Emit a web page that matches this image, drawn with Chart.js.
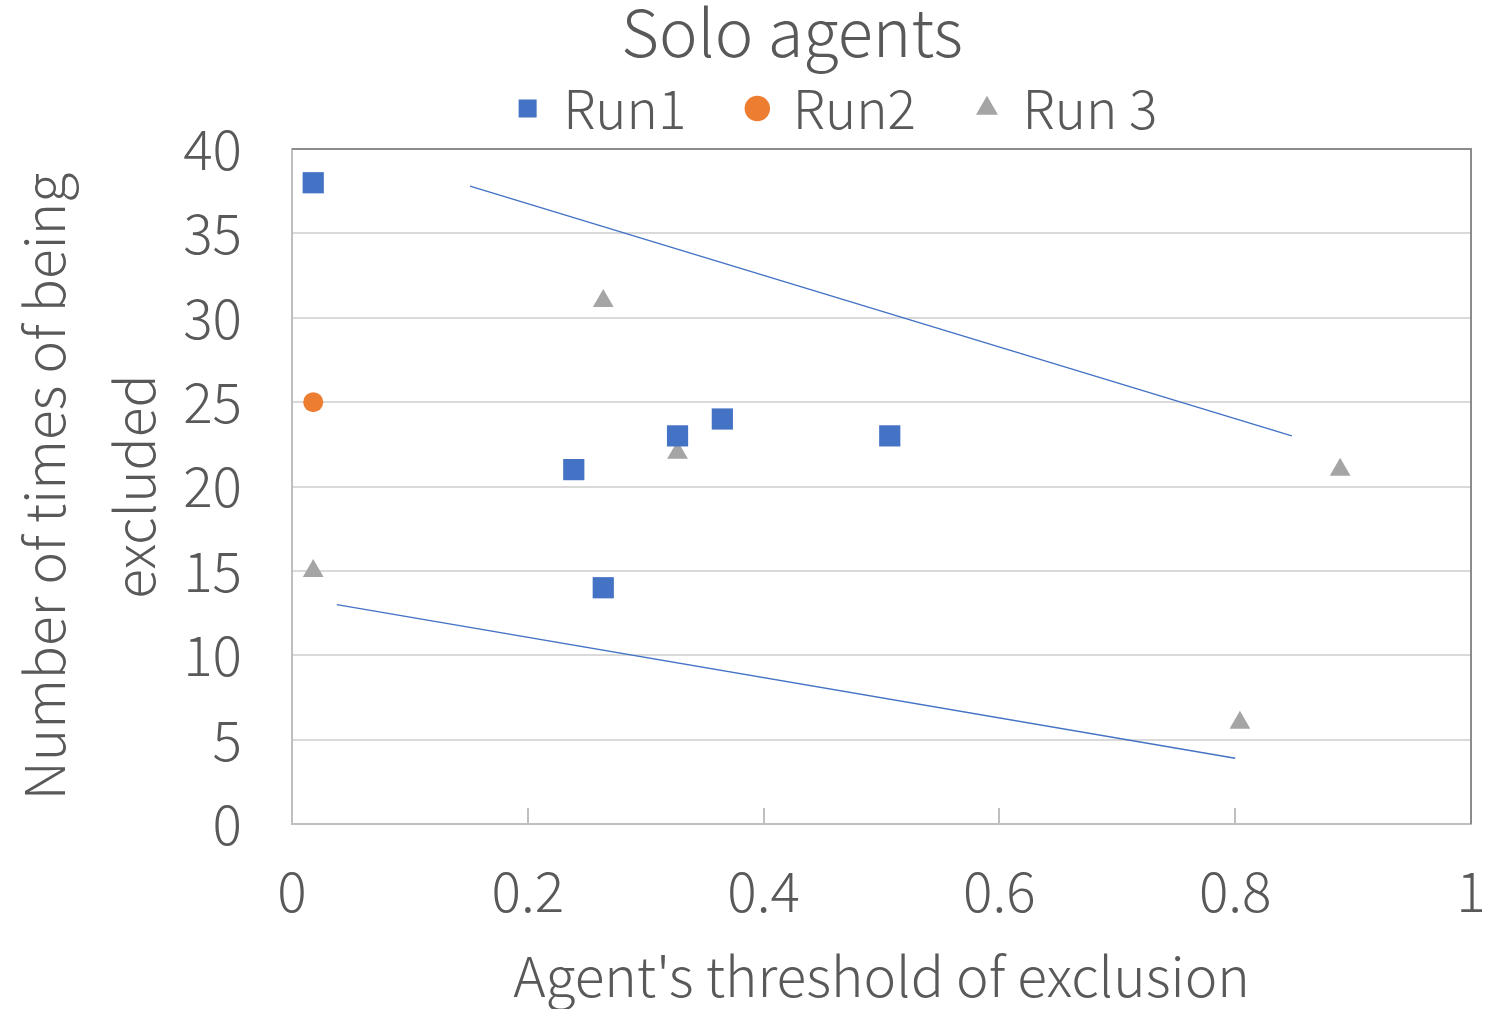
<!DOCTYPE html>
<html>
<head>
<meta charset="utf-8">
<script src="https://cdn.jsdelivr.net/npm/chart.js@4"></script>
<style>
  html, body { margin: 0; padding: 0; background: #ffffff; overflow: hidden; width: 1486px; height: 1009px; }
  #wrap { width: 1600px; height: 1009px; }
  #chart { display: block; }
</style>
</head>
<body>
<div id="wrap"><canvas id="chart" width="1486" height="1009"></canvas></div>
<script>
// Threshold of exclusion (x) and number of times excluded (y) per run
const run1X = [0.018, 0.239, 0.264, 0.327, 0.365, 0.507];
const run1Y = [38, 21, 14, 23, 24, 23];
const run2X = [0.018];
const run2Y = [25];
const run3X = [0.018, 0.264, 0.327, 0.889, 0.804];
const run3Y = [15, 31, 22, 21, 6];

// Two trend lines (start and end points)
const upperTrendX = [0.151, 0.848];
const upperTrendY = [37.8, 23.0];
const lowerTrendX = [0.038, 0.800];
const lowerTrendY = [13.0, 3.9];

const xTicks = [0, 0.2, 0.4, 0.6, 0.8, 1];
const xTickLabels = ['0', '0.2', '0.4', '0.6', '0.8', '1'];
const yTicks = [0, 5, 10, 15, 20, 25, 30, 35, 40];
const yTickLabels = ['0', '5', '10', '15', '20', '25', '30', '35', '40'];

const toPoints = (xs, ys) => xs.map((x, i) => ({ x: x, y: ys[i] }));

const FONT = '"Noto Sans CJK JP", "Noto Sans", sans-serif';
const TEXT = '#595959';

// Target plot box and header centres inside the 1486x1009 view
const VIEW_WIDTH = 1486;
const VIEW_HEIGHT = 1009;
const PLOT_TOP = 149;
const PLOT_RIGHT = 1477;
const TITLE_CENTER = 792;
const LEGEND_CENTER = 838;
let legendExtra = 4;

// Plot frame (top/right edges) and inward tick marks on the x axis
const framePlugin = {
  id: 'frame',
  afterDatasetsDraw(chart) {
    const { ctx, chartArea: a, scales } = chart;
    ctx.save();
    ctx.strokeStyle = '#8c8c8c';
    ctx.lineWidth = 2;
    ctx.beginPath();
    ctx.moveTo(a.left, a.top);
    ctx.lineTo(a.right, a.top);
    ctx.lineTo(a.right, a.bottom);
    ctx.stroke();
    ctx.strokeStyle = '#bfbfbf';
    ctx.lineWidth = 2;
    ctx.beginPath();
    xTicks.slice(1, -1).forEach(v => {
      const px = Math.round(scales.x.getPixelForValue(v));
      ctx.moveTo(px, a.bottom);
      ctx.lineTo(px, a.bottom - 16);
    });
    ctx.stroke();
    ctx.restore();
  }
};

// Header placement: sets the legend block height and centres the
// title and legend on their own positions
const headerPlugin = {
  id: 'header',
  beforeLayout(chart) {
    const lg = chart.legend;
    if (lg && !lg.__sized) {
      const fit = lg.fit;
      lg.fit = function () { fit.call(this); this.height += legendExtra; };
      lg.__sized = true;
    }
  },
  afterLayout(chart) {
    const t = chart.titleBlock;
    if (t) {
      const dx = TITLE_CENTER - (t.left + t.right) / 2;
      t.left += dx; t.right += dx;
    }
    const lg = chart.legend;
    if (lg) {
      const dx = LEGEND_CENTER - (lg.left + lg.right) / 2;
      lg.left += dx; lg.right += dx;
    }
  }
};

const chart = new Chart(document.getElementById('chart'), {
  type: 'scatter',
  data: {
    datasets: [
      {
        label: 'Run1',
        data: toPoints(run1X, run1Y),
        pointStyle: 'rect',
        pointRadius: 15,
        pointHoverRadius: 15,
        backgroundColor: '#4472c4',
        borderColor: '#4472c4',
        borderWidth: 0
      },
      {
        label: 'Run2',
        data: toPoints(run2X, run2Y),
        pointStyle: 'circle',
        pointRadius: 10,
        pointHoverRadius: 10,
        backgroundColor: '#ed7d31',
        borderColor: '#ed7d31',
        borderWidth: 0
      },
      {
        label: 'Run 3',
        data: toPoints(run3X, run3Y),
        pointStyle: 'triangle',
        pointRadius: 12,
        pointHoverRadius: 12,
        backgroundColor: '#a5a5a5',
        borderColor: '#a5a5a5',
        borderWidth: 0
      },
      {
        label: 'trend-upper',
        data: toPoints(upperTrendX, upperTrendY),
        showLine: true,
        pointRadius: 0,
        borderColor: '#4472c4',
        borderWidth: 1.5,
        fill: false
      },
      {
        label: 'trend-lower',
        data: toPoints(lowerTrendX, lowerTrendY),
        showLine: true,
        pointRadius: 0,
        borderColor: '#4472c4',
        borderWidth: 1.5,
        fill: false
      }
    ]
  },
  options: {
    responsive: false,
    animation: false,
    layout: { padding: { top: 0, right: 9, bottom: 0, left: 0 } },
    plugins: {
      tooltip: { enabled: false },
      title: {
        display: true,
        text: 'Solo agents',
        color: TEXT,
        font: { family: FONT, size: 65, weight: 300, lineHeight: 1.1 },
        padding: { top: -3, bottom: -48.5 }
      },
      legend: {
        display: true,
        position: 'top',
        labels: {
          color: TEXT,
          font: { family: FONT, size: 53, weight: 300 },
          usePointStyle: true,
          boxWidth: 18,
          boxHeight: 18,
          padding: 62,
          filter: item => !item.text.startsWith('trend')
        }
      }
    },
    scales: {
      x: {
        type: 'linear',
        min: 0,
        max: 1,
        afterBuildTicks(scale) { scale.ticks = xTicks.map(v => ({ value: v })); },
        afterFit(scale) {
          scale.height = 185;
          scale.paddingLeft = 0;
          scale.paddingRight = 0;
        },
        ticks: {
          color: TEXT,
          font: { family: FONT, size: 55, weight: 300 },
          padding: 34,
          maxRotation: 0,
          autoSkip: false,
          callback: (value, index) => xTickLabels[index]
        },
        grid: { display: true, drawOnChartArea: false, drawTicks: false },
        border: { display: true, color: '#bfbfbf', width: 2 },
        title: {
          display: true,
          text: "Agent's threshold of exclusion",
          color: TEXT,
          font: { family: FONT, size: 55, weight: 300 },
          padding: { top: 16, bottom: 0 }
        }
      },
      y: {
        type: 'linear',
        min: 0,
        max: 40,
        afterBuildTicks(scale) { scale.ticks = yTicks.map(v => ({ value: v })); },
        afterFit(scale) { scale.width = 292; },
        ticks: {
          color: TEXT,
          font: { family: FONT, size: 55, weight: 300 },
          padding: 50,
          callback: (value, index) => yTickLabels[index]
        },
        grid: { color: '#d9d9d9', lineWidth: 2, drawTicks: false },
        border: { display: true, color: '#bfbfbf', width: 2 },
        title: {
          display: true,
          text: ['Number of times of being', 'excluded'],
          color: TEXT,
          font: { family: FONT, size: 55, weight: 300, lineHeight: 1.62 },
          padding: { top: 0, bottom: 0 }
        }
      }
    }
  },
  plugins: [framePlugin, headerPlugin]
});

// Settle the plot box on its target top and right edges: the canvas may
// run past the right edge of the view (clipped by the body) so the plot
// reaches PLOT_RIGHT
const area = chart.chartArea;
legendExtra += PLOT_TOP - area.top;
const extraWidth = Math.max(0, Math.round(PLOT_RIGHT - area.right));
chart.resize(VIEW_WIDTH + extraWidth, VIEW_HEIGHT);
chart.update();
</script>
</body>
</html>
